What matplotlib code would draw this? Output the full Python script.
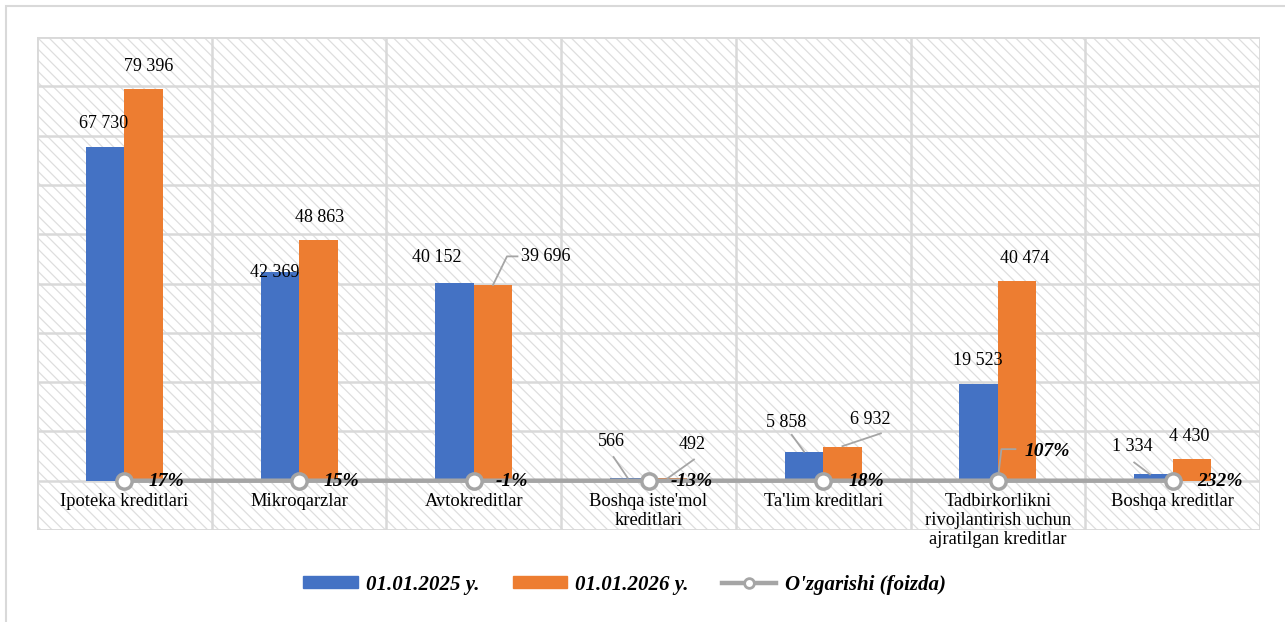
import matplotlib.pyplot as plt
from matplotlib.patches import Rectangle, Patch
from matplotlib.lines import Line2D
import numpy as np

plt.rcParams['font.family'] = ['Liberation Serif', 'DejaVu Serif']
plt.rcParams['hatch.color'] = '#dedede'
plt.rcParams['hatch.linewidth'] = 0.9

# data
categories = ["Ipoteka kreditlari", "Mikroqarzlar", "Avtokreditlar",
              "Boshqa iste'mol\nkreditlari", "Ta'lim kreditlari",
              "Tadbirkorlikni\nrivojlantirish uchun\najratilgan kreditlar",
              "Boshqa kreditlar"]
val_2025 = [67730, 42369, 40152, 566, 5858, 19523, 1334]
val_2026 = [79396, 48863, 39696, 492, 6932, 40474, 4430]
change_pct = [17, 15, -1, -13, 18, 107, 232]
series_names = ["01.01.2025 y.", "01.01.2026 y.", "O'zgarishi (foizda)"]

blue = '#4472C4'
orange = '#ED7D31'
gray = '#A5A5A5'
grid_c = '#D9D9D9'

def fmt(v):
    return f"{v:,}".replace(",", " ")

fig = plt.figure(figsize=(12.85, 6.22), dpi=100)
ax = fig.add_axes([37 / 1285, 92 / 622, 1223 / 1285, 493 / 622])

n = len(categories)
x = np.arange(n)
w = 0.22

ax.set_xlim(-0.5, n - 0.5)
ax.set_ylim(-10000, 90000)

# hatched background
ax.patch.set_facecolor('white')
bg = Rectangle((0, 0), 1, 1, transform=ax.transAxes, facecolor='white',
               edgecolor='#dedede', hatch='\\\\\\', linewidth=0, zorder=0)
ax.add_patch(bg)

for yv in range(-10000, 90001, 10000):
    ax.axhline(yv, color=grid_c, lw=1.8, zorder=1)
for xv in np.arange(-0.5, n, 1.0):
    ax.axvline(xv, color=grid_c, lw=1.8, zorder=1)

ax.bar(x - w / 2, val_2025, w, color=blue, zorder=2)
ax.bar(x + w / 2, val_2026, w, color=orange, zorder=2)

for s in ax.spines.values():
    s.set_visible(False)
ax.set_xticks([])
ax.set_yticks([])

# leader lines
def leader(pts):
    xs, ys = zip(*pts)
    ax.plot(xs, ys, color=gray, lw=1.3, zorder=3)

leader([(2 + 0.11, 39700), (2 + 0.19, 45500), (2 + 0.25, 45500)])
leader([(3 - 0.12, 600), (3 - 0.2, 4800)])
leader([(3 + 0.11, 500), (3 + 0.26, 4300)])
leader([(4 - 0.11, 5900), (4 - 0.18, 9300)])
leader([(4 + 0.11, 7000), (4 + 0.33, 9600)])
leader([(6 - 0.13, 1300), (6 - 0.22, 3700)])
leader([(5 + 0.0, 400), (5 + 0.02, 6400), (5 + 0.1, 6400)])

# percent line on secondary scale (flat at this scale)
ax2 = ax.twinx()
ax2.set_ylim(-1000000, 9000000)
ax2.axis('off')
ax2.plot(x, change_pct, color=gray, lw=3.2, marker='o', ms=11,
         mfc='white', mec=gray, mew=2.5, zorder=5)

lab_fs = 13
lab_2025 = [(-0.12, 72500), (-0.14, 42300), (-0.21, 45200), (-0.21, 7900),
            (-0.21, 11900), (-0.115, 24400), (-0.23, 6900)]
lab_2026 = [(0.14, 84000), (0.12, 53400), (0.41, 45500), (0.25, 7300),
            (0.27, 12500), (0.15, 45000), (0.095, 8900)]
for i in range(n):
    dx, yy = lab_2025[i]
    ax2.text(i + dx, yy, fmt(val_2025[i]), ha='center', va='center',
             fontsize=lab_fs, transform=ax.transData, zorder=6)
    dx, yy = lab_2026[i]
    ax2.text(i + dx, yy, fmt(val_2026[i]), ha='center', va='center',
             fontsize=lab_fs, transform=ax.transData, zorder=6)

# percent labels
pct_pos = [(0.24, -150), (0.24, -150), (0.22, -150), (0.25, -150),
           (0.25, -150), (0.28, 5900), (0.27, -150)]
for i in range(n):
    dx, yy = pct_pos[i]
    ax2.text(i + dx, yy, f"{change_pct[i]}%", ha='center', va='center',
             fontsize=14, fontweight='bold', fontstyle='italic',
             transform=ax.transData, zorder=6)

# category labels
for i, c in enumerate(categories):
    ax2.text(i, -2400, c, ha='center', va='top', fontsize=13.3,
             linespacing=1.18, transform=ax.transData, zorder=6)

# outer chart frame and plot-area border
fig.add_artist(Rectangle((6 / 1285, -0.1), 1.2, 1.1 - 6 / 622,
                         transform=fig.transFigure, fill=False,
                         edgecolor='#d9d9d9', lw=1.5))
ax.add_patch(Rectangle((0, 0), 1, 1, transform=ax.transAxes, fill=False,
                       edgecolor=grid_c, lw=1.8, zorder=4))

handles = [Patch(color=blue), Patch(color=orange),
           Line2D([], [], color=gray, lw=3.2, marker='o', ms=7,
                  mfc='white', mec=gray, mew=2)]
fig.legend(handles, series_names, loc='center', bbox_to_anchor=(0.486, 0.06),
           ncol=3, frameon=False, handlelength=2.6, handleheight=0.5,
           columnspacing=1.6, handletextpad=0.4,
           prop={'family': 'Liberation Serif', 'weight': 'bold',
                 'style': 'italic', 'size': 15})

fig.savefig('out.png', dpi=100)
